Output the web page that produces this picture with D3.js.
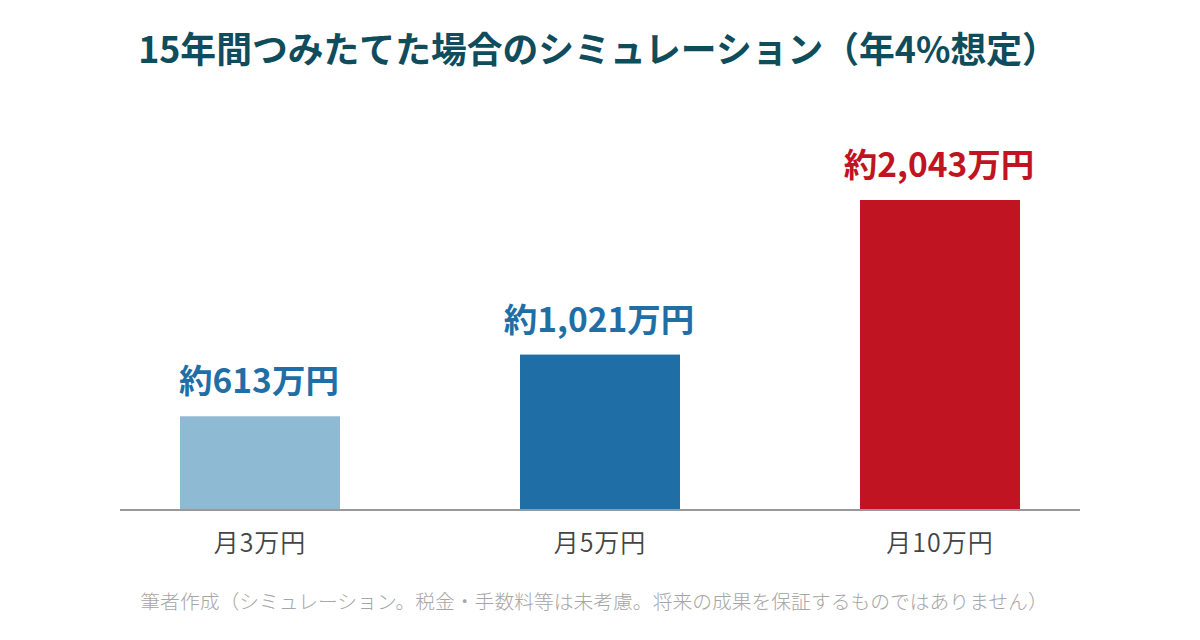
<!DOCTYPE html>
<html lang="ja">
<head>
<meta charset="utf-8">
<script src="https://cdn.jsdelivr.net/npm/d3@7"></script>
<style>
  html, body { margin: 0; padding: 0; background: #fff; }
  svg { display: block; font-family: "Noto Sans CJK JP", "Noto Sans", sans-serif; }
</style>
</head>
<body>
<div id="chart"></div>
<script>
// data
const categories = ["月3万円", "月5万円", "月10万円"];
const values = [613, 1021, 2043];
const valueLabels = ["約613万円", "約1,021万円", "約2,043万円"];
const barColors = ["#8fbad3", "#1f6fa6", "#c01422"];
const labelColors = ["#1f6fa6", "#1f6fa6", "#c01422"];

const titleText = "15年間つみたてた場合のシミュレーション（年4%想定）";
const noteText = "筆者作成（シミュレーション。税金・手数料等は未考慮。将来の成果を保証するものではありません）";

const width = 1200, height = 640;
const baseY = 509;

const svg = d3.select("#chart").append("svg")
  .attr("width", width)
  .attr("height", height)
  .attr("viewBox", [0, 0, width, height]);

const x = d3.scaleBand()
  .domain(categories)
  .range([90, 1110])
  .paddingInner(180 / 340)
  .paddingOuter(90 / 340);

const y = d3.scaleLinear()
  .domain([0, d3.max(values)])
  .range([baseY, 200]);

// ---- title ----
svg.append("text")
  .attr("x", 598)
  .attr("y", 63)
  .attr("text-anchor", "middle")
  .attr("font-size", 35.8)
  .attr("font-weight", 700)
  .attr("fill", "#0f4c5c")
  .text(titleText);

// ---- bars ----
svg.selectAll("rect.bar")
  .data(values)
  .enter()
  .append("rect")
  .attr("class", "bar")
  .attr("x", (d, i) => x(categories[i]))
  .attr("y", d => y(d))
  .attr("width", x.bandwidth())
  .attr("height", d => baseY - y(d))
  .attr("fill", (d, i) => barColors[i]);

// ---- value labels ----
svg.selectAll("text.val")
  .data(values)
  .enter()
  .append("text")
  .attr("class", "val")
  .attr("x", (d, i) => x(categories[i]) + x.bandwidth() / 2 - 1)
  .attr("y", d => y(d) - 23)
  .attr("text-anchor", "middle")
  .attr("font-size", 33.5)
  .attr("font-weight", 700)
  .attr("fill", (d, i) => labelColors[i])
  .text((d, i) => valueLabels[i]);

// ---- baseline + category axis ----
const axis = svg.append("g")
  .attr("transform", `translate(0,${baseY + 1})`)
  .call(d3.axisBottom(x).tickSize(0).tickPadding(0));

axis.select(".domain").remove();
axis.append("line")
  .attr("x1", 120).attr("x2", 1080)
  .attr("stroke", "#999")
  .attr("stroke-width", 2);

axis.selectAll(".tick text")
  .attr("y", 42)
  .attr("dy", null)
  .attr("font-size", 25)
  .attr("font-weight", 350)
  .attr("letter-spacing", 1)
  .attr("font-family", "\"Noto Sans CJK JP\", sans-serif")
  .attr("fill", "#444");

// ---- note ----
svg.append("text")
  .attr("x", 594)
  .attr("y", 609)
  .attr("text-anchor", "middle")
  .attr("font-size", 19.8)
  .attr("font-weight", 300)
  .attr("fill", "#a6a6a6")
  .text(noteText);
</script>
</body>
</html>
